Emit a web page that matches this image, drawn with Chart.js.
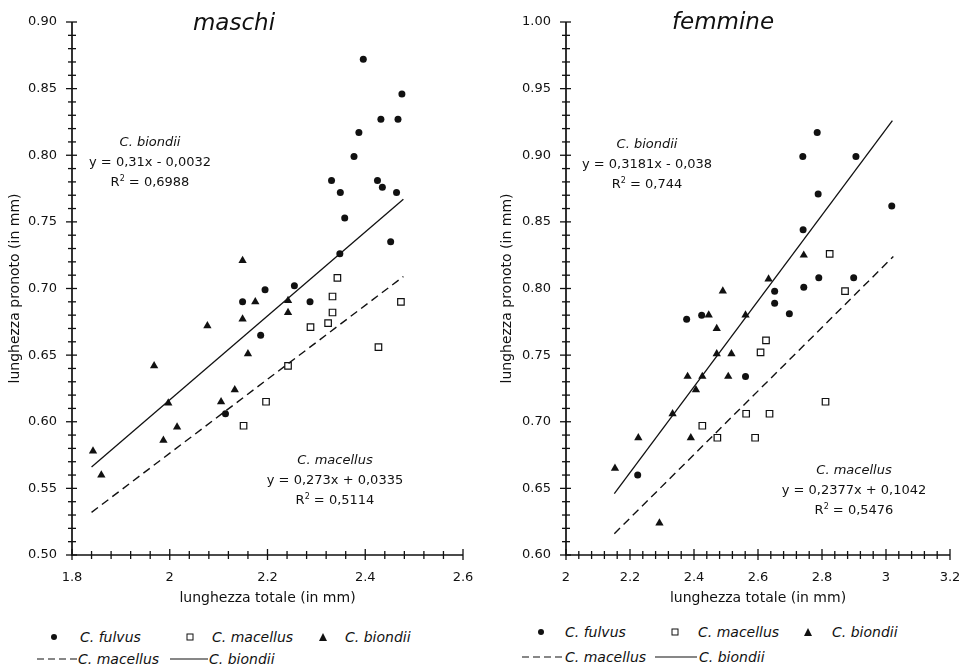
<!DOCTYPE html>
<html>
<head>
<meta charset="utf-8">
<script src="https://cdn.jsdelivr.net/npm/chart.js@4.4.0/dist/chart.umd.min.js"></script>
<style>
  body { margin: 0; background: #fff; width: 962px; height: 666px; position: relative; overflow: hidden;
         font-family: "DejaVu Sans", sans-serif; color: #111; }
  canvas { position: absolute; top: 0; }
  .title { position: absolute; font-style: italic; font-size: 23px; transform: translate(-50%, -50%); white-space: nowrap; }
  .note { position: absolute; text-align: center; font-size: 13px; line-height: 20px; transform: translateX(-50%); white-space: nowrap; }
  .note i { font-style: italic; }
  .note sup { font-size: 8px; line-height: 0; }
  .lg { position: absolute; font-style: italic; font-size: 14px; transform: translateY(-50%); white-space: nowrap; }
  .mk { position: absolute; transform: translate(-50%, -50%); }
</style>
</head>
<body>
<canvas id="chartM" width="481" height="611" style="left:0"></canvas>
<canvas id="chartF" width="470" height="611" style="left:492px"></canvas>

<div class="title" style="left:234px; top:22px">maschi</div>
<div class="title" style="left:723px; top:21px">femmine</div>

<div class="note" style="left:150px; top:132px"><i>C. biondii</i><br>y = 0,31x - 0,0032<br>R<sup>2</sup> = 0,6988</div>
<div class="note" style="left:335px; top:450px"><i>C. macellus</i><br>y = 0,273x + 0,0335<br>R<sup>2</sup> = 0,5114</div>
<div class="note" style="left:647px; top:134px"><i>C. biondii</i><br>y = 0,3181x - 0,038<br>R<sup>2</sup> = 0,744</div>
<div class="note" style="left:854px; top:460px"><i>C. macellus</i><br>y = 0,2377x + 0,1042<br>R<sup>2</sup> = 0,5476</div>

<!-- legends -->
<svg class="mk" style="left:54px; top:637px" width="8" height="8"><circle cx="4" cy="4" r="3" fill="#111"/></svg>
<div class="lg" style="left:80px; top:637px">C. fulvus</div>
<svg class="mk" style="left:190px; top:637px" width="8" height="8"><rect x="1" y="1" width="6" height="6" fill="#fff" stroke="#111"/></svg>
<div class="lg" style="left:212px; top:637px">C. macellus</div>
<svg class="mk" style="left:323px; top:637px" width="9" height="9"><path d="M4.5 0.5 L8.5 8.5 L0.5 8.5 Z" fill="#111"/></svg>
<div class="lg" style="left:345px; top:637px">C. biondii</div>
<svg class="mk" style="left:57px; top:659px" width="40" height="4"><line x1="0" y1="2" x2="40" y2="2" stroke="#111" stroke-width="1.2" stroke-dasharray="7 4"/></svg>
<div class="lg" style="left:78px; top:659px">C. macellus</div>
<svg class="mk" style="left:189px; top:659px" width="38" height="4"><line x1="0" y1="2" x2="38" y2="2" stroke="#111" stroke-width="1.2"/></svg>
<div class="lg" style="left:209px; top:659px">C. biondii</div>

<svg class="mk" style="left:541px; top:632px" width="8" height="8"><circle cx="4" cy="4" r="3" fill="#111"/></svg>
<div class="lg" style="left:565px; top:632px">C. fulvus</div>
<svg class="mk" style="left:675px; top:632px" width="8" height="8"><rect x="1" y="1" width="6" height="6" fill="#fff" stroke="#111"/></svg>
<div class="lg" style="left:698px; top:632px">C. macellus</div>
<svg class="mk" style="left:808px; top:632px" width="9" height="9"><path d="M4.5 0.5 L8.5 8.5 L0.5 8.5 Z" fill="#111"/></svg>
<div class="lg" style="left:832px; top:632px">C. biondii</div>
<svg class="mk" style="left:543px; top:657px" width="42" height="4"><line x1="0" y1="2" x2="42" y2="2" stroke="#111" stroke-width="1.2" stroke-dasharray="7 4"/></svg>
<div class="lg" style="left:565px; top:657px">C. macellus</div>
<svg class="mk" style="left:676px; top:657px" width="42" height="4"><line x1="0" y1="2" x2="42" y2="2" stroke="#111" stroke-width="1.2"/></svg>
<div class="lg" style="left:699px; top:657px">C. biondii</div>

<script>
// --- data (x = lunghezza totale, y = lunghezza pronoto) ---
const maschiFulvus = [
  [2.396, 0.872], [2.475, 0.846], [2.432, 0.827], [2.467, 0.827], [2.387, 0.817],
  [2.377, 0.799], [2.331, 0.781], [2.425, 0.781], [2.435, 0.776], [2.349, 0.772],
  [2.464, 0.772], [2.358, 0.753], [2.452, 0.735], [2.348, 0.726], [2.255, 0.702],
  [2.195, 0.699], [2.149, 0.690], [2.287, 0.690], [2.186, 0.665], [2.114, 0.606]
];
const maschiMacellus = [
  [2.343, 0.708], [2.333, 0.694], [2.333, 0.682], [2.473, 0.690], [2.324, 0.674],
  [2.288, 0.671], [2.427, 0.656], [2.242, 0.642], [2.197, 0.615], [2.151, 0.597]
];
const maschiBiondii = [
  [2.149, 0.721], [2.175, 0.690], [2.242, 0.691], [2.242, 0.682], [2.149, 0.677],
  [2.077, 0.672], [1.968, 0.642], [2.160, 0.651], [1.997, 0.614], [2.105, 0.615],
  [2.133, 0.624], [2.015, 0.596], [1.987, 0.586], [1.843, 0.578], [1.860, 0.560]
];
const maschiLineBiondii = [[1.84, 0.566], [2.478, 0.767]];
const maschiLineMacellus = [[1.84, 0.532], [2.478, 0.709]];

const femmineFulvus = [
  [2.785, 0.917], [2.740, 0.899], [2.906, 0.899], [2.788, 0.871], [3.018, 0.862],
  [2.741, 0.844], [2.790, 0.808], [2.899, 0.808], [2.743, 0.801], [2.652, 0.798],
  [2.652, 0.789], [2.698, 0.781], [2.377, 0.777], [2.424, 0.780], [2.561, 0.734],
  [2.224, 0.660]
];
const femmineMacellus = [
  [2.824, 0.826], [2.872, 0.798], [2.625, 0.761], [2.608, 0.752], [2.811, 0.715],
  [2.563, 0.706], [2.636, 0.706], [2.426, 0.697], [2.473, 0.688], [2.591, 0.688]
];
const femmineBiondii = [
  [2.743, 0.825], [2.633, 0.807], [2.490, 0.798], [2.446, 0.780], [2.561, 0.780],
  [2.471, 0.770], [2.471, 0.751], [2.517, 0.751], [2.380, 0.734], [2.426, 0.734],
  [2.507, 0.734], [2.406, 0.724], [2.333, 0.706], [2.226, 0.688], [2.390, 0.688],
  [2.153, 0.665], [2.292, 0.624]
];
const femmineLineBiondii = [[2.151, 0.646], [3.020, 0.926]];
const femmineLineMacellus = [[2.151, 0.616], [3.023, 0.824]];

// axis ranges: [min, max, major step, minor step]
const maschiX = [1.8, 2.6, 0.2, 0.04];
const maschiY = [0.50, 0.90, 0.05, 0.01];
const femmineX = [2.0, 3.2, 0.2, 0.04];
const femmineY = [0.60, 1.00, 0.05, 0.01];

const INK = '#111';
const pts = arr => arr.map(p => ({ x: p[0], y: p[1] }));

// draws the axis lines with ticks crossing them, like the original
const crossTicks = {
  id: 'crossTicks',
  beforeDatasetsDraw(chart) {
    const ctx = chart.ctx;
    const xs = chart.scales.x, ys = chart.scales.y;
    const x0 = xs.left, y0 = ys.bottom;
    ctx.save();
    ctx.strokeStyle = INK;
    ctx.lineWidth = 1.7;
    ctx.beginPath();
    ctx.moveTo(x0, ys.top); ctx.lineTo(x0, y0); ctx.lineTo(xs.right, y0);
    ctx.stroke();
    ctx.lineWidth = 1.3;
    const ax = chart.options.axisX, ay = chart.options.axisY;
    const nX = Math.round((ax[1] - ax[0]) / ax[3]);
    for (let i = 0; i <= nX; i++) {
      const v = ax[0] + i * ax[3];
      const major = Math.abs(v / ax[2] - Math.round(v / ax[2])) < 1e-6;
      const px = xs.getPixelForValue(v);
      ctx.beginPath();
      ctx.moveTo(px, y0 - (major ? 6 : 4)); ctx.lineTo(px, y0 + (major ? 5 : 4));
      ctx.stroke();
    }
    const nY = Math.round((ay[1] - ay[0]) / ay[3]);
    for (let i = 0; i <= nY; i++) {
      const v = ay[0] + i * ay[3];
      const major = Math.abs(v / ay[2] - Math.round(v / ay[2])) < 1e-6;
      const py = ys.getPixelForValue(v);
      ctx.beginPath();
      ctx.moveTo(x0 - (major ? 6 : 4), py); ctx.lineTo(x0 + (major ? 5 : 4), py);
      ctx.stroke();
    }
    ctx.restore();
  }
};

function makeChart(id, fulvus, macellus, biondii, lineB, lineM, ax, ay, yWidth, padRight) {
  const font = { family: '"DejaVu Sans", sans-serif', size: 13 };
  // tick marks are hidden (grid.display false) but their length still spaces the labels
  const hiddenGrid = { display: false, drawTicks: true, tickLength: 15 };
  return new Chart(document.getElementById(id), {
    type: 'scatter',
    data: {
      datasets: [
        { label: 'C. macellus (retta)', data: pts(lineM), showLine: true, borderColor: INK, borderWidth: 1.4,
          borderDash: [8, 5], pointRadius: 0 },
        { label: 'C. biondii (retta)', data: pts(lineB), showLine: true, borderColor: INK, borderWidth: 1.3,
          pointRadius: 0 },
        { label: 'C. fulvus', data: pts(fulvus), pointStyle: 'circle', pointRadius: 3.5,
          backgroundColor: INK, borderColor: INK, borderWidth: 0 },
        { label: 'C. macellus', data: pts(macellus), pointStyle: 'rect', pointRadius: 4.6,
          backgroundColor: '#fff', borderColor: INK, borderWidth: 1.2 },
        { label: 'C. biondii', data: pts(biondii), pointStyle: 'triangle', pointRadius: 4.8,
          backgroundColor: INK, borderColor: INK, borderWidth: 0 }
      ]
    },
    options: {
      responsive: false,
      animation: false,
      axisX: ax,
      axisY: ay,
      layout: { padding: { top: 22, right: padRight, left: 0, bottom: 0 } },
      plugins: { legend: { display: false }, tooltip: { enabled: false } },
      scales: {
        x: {
          type: 'linear', min: ax[0], max: ax[1],
          grid: hiddenGrid, border: { display: false },
          ticks: { stepSize: ax[2], padding: 0, color: INK, font,
                   callback: v => String(Math.round(v * 10) / 10) },
          title: { display: true, text: 'lunghezza totale (in mm)', color: INK,
                   font: { family: font.family, size: 14 }, padding: { top: 0, bottom: 4 } },
          afterFit: s => { s.height = 56; }
        },
        y: {
          type: 'linear', min: ay[0], max: ay[1],
          grid: hiddenGrid, border: { display: false },
          ticks: { stepSize: ay[2], padding: 0, color: INK, font,
                   callback: v => v.toFixed(2) },
          title: { display: true, text: 'lunghezza pronoto (in mm)', color: INK,
                   font: { family: font.family, size: 14 }, padding: { top: 7, bottom: 0 } },
          afterFit: s => { s.width = yWidth; }
        }
      }
    },
    plugins: [crossTicks]
  });
}

makeChart('chartM', maschiFulvus, maschiMacellus, maschiBiondii, maschiLineBiondii, maschiLineMacellus,
          maschiX, maschiY, 72, 18);
makeChart('chartF', femmineFulvus, femmineMacellus, femmineBiondii, femmineLineBiondii, femmineLineMacellus,
          femmineX, femmineY, 74, 12);
</script>
</body>
</html>
